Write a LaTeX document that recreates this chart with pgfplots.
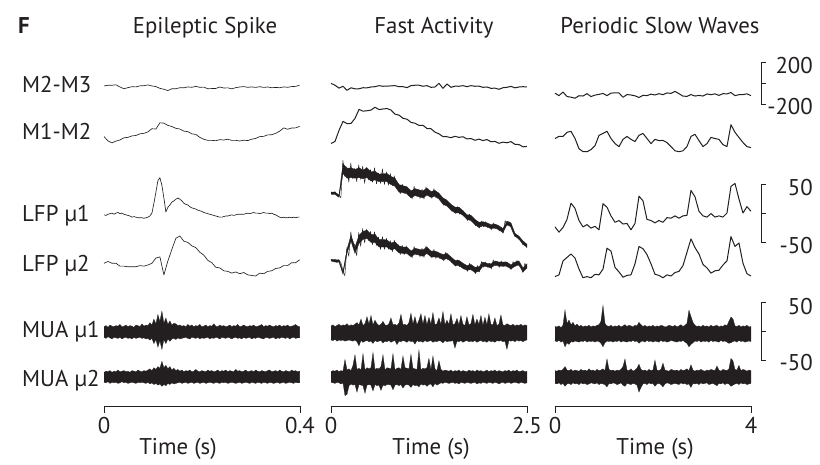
\documentclass[border=0pt]{standalone}
\usepackage{pgfplots}
\pgfplotsset{compat=1.18}
\usepackage{fontspec}
\setmainfont{PT Sans}
\definecolor{ink}{RGB}{35,31,32}

% ---------- data (µV), equally spaced samples over each window ----------
% Epileptic spike (0-0.4 s)
\def\aMa{10,17,17,21,0,-17,-6,3,1,11,13,20,10,4,-13,-22,-34,-17,-17,-7,-8,1,-3,6,-3,-1,-17,-15,-14,0,-10,-8,-18,-6,0,4,-3,1,-4,3,-4,0,-7,-4,-7,1,-3,4,6,17}
\def\aMb{-35,-76,-95,-78,-67,-46,-42,-28,-24,-8,-3,11,41,38,98,95,73,62,45,38,18,13,-8,-14,-42,-60,-71,-71,-74,-64,-67,-60,-71,-71,-77,-69,-73,-60,-52,-35,-32,-18,-17,-3,17,49,36,48,49,64}
\def\aLa{2,1,3,4,5,3,5,6,4,5,3,2,1,0,-2,-1,-2,-3,-3,-3,-4,-3,-2,0,5,22,41,61,66,53,31,7,15,19,24,26,29,31,29,26,22,20,19,16,14,13,12,10,9,8,6,5,4,3,2,1,0,-1,-2,-2,-1,0,0,1,2,1,2,3,3,3,3,4,5,4,5,6,5,5,4,5,6,5,5,4,5,3,2,0,-2,-3,-2,-3,-3,-2,-3,-2,-3,-2,-2}
\def\aLb{3,6,3,3,-2,-2,-3,-3,-3,-1,-2,0,3,12,14,-17,7,27,46,50,41,39,33,30,22,17,8,4,-4,-5,-10,-11,-14,-12,-15,-13,-17,-18,-19,-14,-15,-11,-10,-6,-5,-1,-1,4,4,9}
\def\aUaU{9,11,8,12,10,9,11,10,13,9,10,12,9,11,10,8,12,11,9,14,10,12,11,16,12,22,14,30,18,36,15,24,13,19,12,15,14,11,12,10,11,9,13,10,12,9,11,10,13,9,10,12,9,11,10,14,10,9,12,10,11,9,10,12,9,11,10,13,9,10,12,10,9,11,10,12,9,10,11,13,9,11,10,12,10,9,11,10,12,9,11,10,12,9,10,11,13,10,9}
\def\aUaL{-9,-11,-8,-10,-12,-9,-10,-11,-9,-12,-10,-9,-11,-10,-12,-9,-11,-10,-9,-11,-10,-12,-11,-14,-11,-20,-13,-26,-15,-30,-13,-20,-12,-16,-12,-11,-13,-10,-12,-11,-10,-9,-11,-12,-9,-10,-11,-9,-12,-10,-11,-10,-9,-12,-10,-11,-9,-10,-12,-9,-10,-11,-9,-10,-12,-10,-9,-11,-10,-12,-9,-11,-10,-9,-12,-10,-11,-9,-10,-11,-12,-9,-10,-11,-10,-9,-12,-10,-11,-9,-10,-11,-9,-12,-10,-9,-11,-10,-10}
\def\aUbU{8,10,9,11,8,10,9,12,9,10,11,9,10,8,11,10,9,12,10,9,11,10,12,14,11,16,13,18,15,27,16,20,14,18,12,15,11,13,10,12,9,11,10,12,9,10,13,10,9,11,10,9,12,10,11,9,10,12,9,11,10,12,9,11,10,9,13,10,11,9,10,12,9,10,11,9,12,10,9,11,10,9,11,12,9,10,11,9,12,10,9,11,10,9,12,10,11,9,10}
\def\aUbL{-9,-10,-8,-11,-9,-10,-9,-11,-10,-8,-10,-9,-11,-10,-9,-10,-11,-9,-10,-9,-10,-11,-9,-12,-10,-13,-11,-14,-12,-16,-13,-15,-11,-13,-10,-12,-11,-10,-9,-11,-10,-9,-11,-10,-9,-11,-10,-9,-11,-10,-9,-11,-10,-9,-10,-11,-9,-10,-11,-9,-10,-9,-11,-10,-9,-10,-11,-10,-9,-11,-10,-9,-10,-11,-9,-10,-11,-9,-10,-11,-9,-10,-11,-9,-10,-11,-10,-9,-11,-10,-9,-11,-10,-9,-10,-11,-9,-10,-10}
% Fast activity (0-2.5 s)
\def\bMa{35,17,-11,7,-32,-8,-17,-17,-7,-8,0,3,13,7,8,11,13,3,3,-6,13,17,17,7,13,-3,0,35,-13,29,-3,8,7,13,3,13,7,8,-3,0,-13,-11,-22,-7,-3,6,-8,0,3,0}
\def\bMb{-101,-81,25,112,90,92,140,227,210,214,220,248,225,231,235,221,181,172,141,133,102,94,73,74,43,41,8,-8,-35,-36,-45,-32,-42,-36,-57,-53,-70,-59,-73,-63,-84,-81,-99,-88,-94,-83,-109,-111,-133,-129}
\def\bLaU{36,36,31,85,77,78,75,78,74,78,71,72,67,68,68,63,60,49,47,45,38,42,40,38,43,37,39,34,26,22,15,10,10,4,-3,-4,-11,-16,-15,-17,-20,-19,-22,-27,-14,-17,-35,-40,-48,-54}
\def\bLaL{32,32,27,68,60,61,60,61,59,61,55,57,54,54,54,49,46,36,35,33,26,30,28,26,31,27,29,24,15,12,5,0,0,-4,-11,-13,-20,-25,-22,-24,-27,-26,-29,-34,-20,-24,-40,-45,-54,-59}
\def\bLaZ{36,32,37,31,31,26,91,63,80,53,86,59,77,54,83,58,81,51,79,57,75,53,78,50,69,51,76,49,71,48,68,47,64,42,51,33,50,34,46,30,40,24,46,29,41,25,41,24,45,30,38,25,42,26,36,23,27,13,24,11,16,3,12,-1,11,-2,6,-5,-2,-13,-2,-14,-10,-22,-14,-26,-14,-24,-15,-25,-19,-29,-17,-27,-21,-31,-25,-35,-13,-22,-15,-25,-34,-41,-39,-46,-47,-55,-53,-60}
\def\bLbU{10,9,9,-11,27,51,31,51,58,60,53,53,44,44,43,38,40,33,31,31,24,29,27,26,31,24,24,21,18,20,14,8,8,3,-1,1,-4,-3,5,3,2,7,5,5,5,0,5,7,-5,2}
\def\bLbL{7,5,5,-16,20,41,20,37,44,46,39,39,31,31,31,26,28,21,20,20,14,19,17,15,20,14,14,13,9,11,6,-1,-1,-6,-9,-8,-13,-11,-2,-3,-5,0,-2,-2,-2,-7,-2,0,-12,-5}
\def\bLbZ{10,7,10,4,9,4,-9,-19,30,15,57,37,35,16,56,32,63,38,62,42,58,35,57,34,48,27,49,27,46,27,42,23,43,25,35,18,34,18,33,17,26,12,32,17,28,14,29,13,33,18,25,12,27,11,23,11,19,7,22,9,15,4,10,-2,9,-3,5,-7,0,-11,3,-9,-3,-15,-1,-12,6,-4,5,-4,3,-7,9,-1,6,-4,7,-3,6,-4,2,-8,6,-3,8,-1,-4,-13,3,-6}
\def\bUaU{12,14,11,13,15,12,14,13,16,12,14,13,15,18,14,24,13,16,28,15,30,14,22,16,13,15,20,14,13,16,26,14,15,13,17,32,14,15,13,18,34,15,28,14,22,33,15,30,14,27,15,35,14,16,26,15,37,14,22,15,33,14,16,25,14,30,15,13,28,14,16,32,14,24,15,30,13,27,14,33,15,14,26,13,15,31,14,13,16,14,13,15,12,14,13,15,12,14,13}
\def\bUaL{-12,-13,-11,-14,-12,-13,-12,-14,-13,-12,-13,-14,-12,-15,-22,-13,-16,-14,-13,-15,-14,-18,-13,-15,-14,-13,-17,-14,-15,-13,-16,-14,-13,-20,-14,-15,-13,-14,-16,-13,-15,-14,-19,-13,-15,-14,-16,-13,-15,-14,-13,-16,-14,-15,-13,-14,-17,-13,-15,-14,-14,-13,-26,-14,-15,-13,-16,-14,-13,-15,-14,-15,-13,-16,-14,-13,-15,-14,-16,-13,-15,-14,-16,-13,-14,-13,-15,-14,-28,-13,-14,-13,-15,-12,-14,-13,-15,-13,-12}
\def\bUbU{9,11,10,12,9,11,10,30,12,14,11,20,38,13,15,12,40,12,16,14,16,42,13,15,14,18,38,12,16,15,14,40,12,15,16,13,36,16,15,14,39,15,14,13,46,12,15,14,16,32,12,36,14,11,28,13,10,12,11,10,12,9,11,10,12,9,11,10,9,12,10,11,9,12,10,11,9,10,12,9,11,10,12,9,11,10,9,11,10,12,9,11,10,12,9,10,11,9,10}
\def\bUbL{-9,-10,-11,-9,-10,-12,-10,-32,-30,-15,-12,-14,-13,-26,-13,-14,-15,-28,-14,-13,-14,-24,-13,-15,-14,-23,-14,-15,-13,-13,-14,-22,-14,-13,-15,-13,-19,-14,-13,-14,-18,-13,-15,-14,-17,-12,-14,-13,-16,-13,-12,-17,-11,-14,-12,-10,-11,-9,-10,-11,-10,-9,-11,-10,-12,-9,-10,-11,-9,-10,-11,-10,-9,-12,-10,-11,-9,-10,-11,-9,-10,-11,-9,-10,-12,-10,-9,-11,-10,-9,-11,-10,-9,-10,-11,-9,-10,-11,-10}
% Periodic slow waves (0-4 s)
\def\cMa{17,-6,28,-15,-21,-31,-7,-10,13,-15,-1,6,15,-6,18,21,20,-22,4,0,-8,-24,-3,-6,8,0,13,3,20,15,35,13,-11,-13,4,-10,-4,-10,10,3,11,-4,13,10,24,-6,3,4,11,-6}
\def\cMb{14,35,34,74,83,15,-84,-112,-113,-92,-55,45,63,84,14,-34,-64,6,34,6,-15,45,63,15,-35,6,-6,-4,-25,-63,-104,-112,-104,-63,34,55,-6,-63,-35,25,14,6,-45,-63,147,74,24,-24,-64,-73}
\def\cLa{-24,-33,-25,-11,17,8,-13,-24,-20,-26,-23,-29,16,10,-5,-16,-13,-19,-18,-29,-18,29,21,-11,-13,-17,-13,-16,-8,-9,-5,-9,-5,-4,39,28,3,-5,-7,-1,-7,-5,-7,0,46,51,24,0,11,3}
\def\cLb{-20,-17,7,13,19,12,-7,-22,-20,-22,-16,-17,-7,29,24,-4,-12,-21,-18,-17,2,32,28,18,2,-16,-18,-22,-17,-19,-13,-11,-1,22,45,30,19,1,-5,-14,-10,-9,0,7,49,32,38,3,-15,-19}
\def\cUaU{13,12,14,11,15,41,18,24,16,20,14,17,13,15,12,14,13,15,12,14,13,15,16,22,49,18,14,13,15,12,14,13,15,12,14,16,13,15,14,12,15,14,20,16,13,15,12,14,13,15,12,14,13,15,14,12,13,15,14,13,15,12,14,16,13,15,18,41,30,20,15,13,14,12,15,13,14,12,15,13,14,15,12,14,13,16,14,22,29,26,14,13,15,12,14,13,15,12,13}
\def\cUaL{-12,-13,-11,-14,-12,-22,-15,-18,-13,-14,-12,-13,-14,-12,-13,-11,-14,-12,-13,-12,-14,-12,-13,-16,-22,-15,-12,-13,-12,-14,-12,-13,-11,-14,-12,-13,-14,-12,-13,-11,-13,-12,-16,-13,-12,-14,-11,-13,-12,-14,-12,-13,-14,-11,-13,-12,-14,-13,-11,-12,-13,-14,-12,-13,-11,-14,-16,-22,-18,-15,-12,-13,-11,-14,-12,-13,-12,-14,-11,-13,-12,-13,-14,-11,-13,-12,-14,-16,-15,-13,-12,-14,-11,-13,-12,-14,-13,-12,-13}
\def\cUbU{11,10,12,11,13,18,12,11,13,10,12,11,10,13,11,12,10,14,11,12,10,13,11,12,14,11,31,13,11,12,10,12,11,13,18,31,12,11,14,10,12,15,22,13,11,12,10,13,11,12,29,12,11,13,24,12,11,10,13,12,11,12,10,13,11,12,14,11,21,12,10,12,11,13,11,10,12,11,13,12,11,19,12,10,13,12,11,14,32,28,13,12,20,11,13,12,10,12,11}
\def\cUbL{-11,-12,-10,-13,-11,-16,-12,-11,-13,-10,-12,-11,-13,-10,-12,-11,-13,-12,-10,-11,-12,-10,-13,-11,-12,-13,-17,-11,-12,-10,-11,-13,-12,-10,-14,-16,-11,-12,-13,-11,-12,-14,-26,-18,-12,-11,-13,-10,-12,-11,-16,-12,-11,-13,-17,-12,-10,-11,-13,-12,-11,-12,-13,-10,-12,-11,-13,-12,-18,-11,-12,-11,-13,-10,-12,-11,-10,-13,-12,-11,-13,-15,-11,-12,-10,-13,-11,-12,-16,-14,-12,-11,-13,-10,-12,-11,-13,-12,-11}

% ---------- helpers: list of values -> coordinates ----------
\newcommand\countlist[1]{\gdef\nn{0}\foreach \val in #1 {\pgfmathtruncatemacro\tmpn{\nn+1}\xdef\nn{\tmpn}}}
\newcommand\tracepts[4]{\countlist{#1}\pgfmathsetmacro\dtt{#2/(\nn-1)}\gdef\pts{}%
  \foreach \val [count=\ii from 0] in #1 {\pgfmathsetmacro\xx{\ii*\dtt}\pgfmathsetmacro\yy{#3+(\val)*#4}\xdef\pts{\pts(\xx,\yy)}}}
\newcommand\tracerev[4]{\countlist{#1}\pgfmathsetmacro\dtt{#2/(\nn-1)}\gdef\ptsr{}%
  \foreach \val [count=\ii from 0] in #1 {\pgfmathsetmacro\xx{\ii*\dtt}\pgfmathsetmacro\yy{#3+(\val)*#4}\xdef\ptsr{(\xx,\yy)\ptsr}}}
\newcommand\trace[5][]{\tracepts{#2}{#3}{#4}{#5}\edef\tmp{\noexpand\addplot[tr,#1] coordinates {\pts};}\tmp}
\newcommand\band[5]{\tracepts{#1}{#3}{#4}{#5}\tracerev{#2}{#3}{#4}{#5}\edef\tmp{\noexpand\addplot[bd] coordinates {\pts\ptsr};}\tmp}

\pgfplotsset{
  tr/.style={ink, line width=0.65pt, no markers, line join=round},
  noisy/.style={line width=1pt},
  fine/.style={line width=0.45pt},
  bd/.style={ink, fill=ink, line width=0.3pt, no markers},
  colax/.style={scale only axis, width=196pt, height=406pt, anchor=south west,
    xmin=0, ymin=58, ymax=464, axis y line=none, ytick=\empty,
    axis x line*=bottom, axis line style={ink, line width=0.6pt, -},
    tick align=outside, major tick length=7pt, tick style={ink, line width=0.6pt},
    xticklabels={,}, xticklabel style={opacity=0}, clip=false, enlargelimits=false}
}

\begin{document}
\begin{tikzpicture}[font=\fontsize{22.8}{26}\selectfont]
\useasboundingbox (0pt,0pt) rectangle (820pt,464pt);
% ---- Epileptic spike ----
\begin{axis}[colax, at={(104pt,58pt)}, xmax=0.4, xtick={0,0.4}]
\trace{\aMa}{0.4}{377}{0.104}
\trace{\aMb}{0.4}{331}{0.104}
\trace{\aLa}{0.4}{248}{0.58}
\trace{\aLb}{0.4}{199}{0.58}
\band{\aUaU}{\aUaL}{0.4}{132}{0.58}
\band{\aUbU}{\aUbL}{0.4}{87}{0.58}
\end{axis}
% ---- Fast activity ----
\begin{axis}[colax, at={(331pt,58pt)}, xmax=2.5, xtick={0,2.5}]
\trace[noisy]{\bMa}{2.5}{377}{0.104}
\trace[noisy]{\bMb}{2.5}{331}{0.104}
\band{\bLaU}{\bLaL}{2.5}{251}{0.58}
\trace[fine]{\bLaZ}{2.5}{251}{0.58}
\band{\bLbU}{\bLbL}{2.5}{199}{0.58}
\trace[fine]{\bLbZ}{2.5}{199}{0.58}
\band{\bUaU}{\bUaL}{2.5}{131}{0.58}
\band{\bUbU}{\bUbL}{2.5}{87}{0.58}
\end{axis}
% ---- Periodic slow waves ----
\begin{axis}[colax, at={(555pt,58pt)}, xmax=4, xtick={0,4}]
\trace[noisy]{\cMa}{4}{369}{0.104}
\trace[noisy]{\cMb}{4}{324}{0.104}
\trace[noisy]{\cLa}{4}{251}{0.58}
\trace[noisy]{\cLb}{4}{199}{0.58}
\band{\cUaU}{\cUaL}{4}{130}{0.58}
\band{\cUbU}{\cUbL}{4}{87}{0.58}
\end{axis}

\begin{scope}[x=1pt,y=1pt,every node/.style={inner sep=0pt, text=ink}]
\node[anchor=base west, font=\fontsize{22.8}{26}\selectfont\bfseries] at (18,430.7) {F};
\node[anchor=base] at (205,430.7) {Epileptic Spike};
\node[anchor=base] at (434,430.7) {Fast Activity};
\node[anchor=base] at (660,430.7) {Periodic Slow Waves};
\node[anchor=base west] at (22,371.3) {M2-M3};
\node[anchor=base west] at (22,324) {M1-M2};
\node[anchor=base west] at (22,242.3) {LFP µ1};
\node[anchor=base west] at (22,192.3) {LFP µ2};
\node[anchor=base west] at (22,126) {MUA µ1};
\node[anchor=base west] at (22,77.3) {MUA µ2};
\node[anchor=base] at (104,30.7) {0};
\node[anchor=base] at (300,30.7) {0.4};
\node[anchor=base] at (331,30.7) {0};
\node[anchor=base] at (527,30.7) {2.5};
\node[anchor=base] at (555,30.7) {0};
\node[anchor=base] at (751,30.7) {4};
\node[anchor=base] at (178,10) {Time (s)};
\node[anchor=base] at (431,10) {Time (s)};
\node[anchor=base] at (655,10) {Time (s)};
\node[anchor=east] at (813,398) {200};
\node[anchor=east] at (813,357) {-200};
\node[anchor=east] at (813,276) {50};
\node[anchor=east] at (813,218) {-50};
\node[anchor=east] at (813,157) {50};
\node[anchor=east] at (813,101) {-50};
\end{scope}
\begin{scope}[x=1pt,y=1pt,ink, line width=0.6pt]
\draw (766,401.5) -- (761,401.5) -- (761,359.9) -- (766,359.9);
\draw (761,380.7) -- (766,380.7);
\draw (766,280) -- (761,280) -- (761,222) -- (766,222);
\draw (761,251) -- (766,251);
\draw (766,162) -- (761,162) -- (761,104) -- (766,104);
\draw (761,133) -- (766,133);
\end{scope}
\end{tikzpicture}
\end{document}
